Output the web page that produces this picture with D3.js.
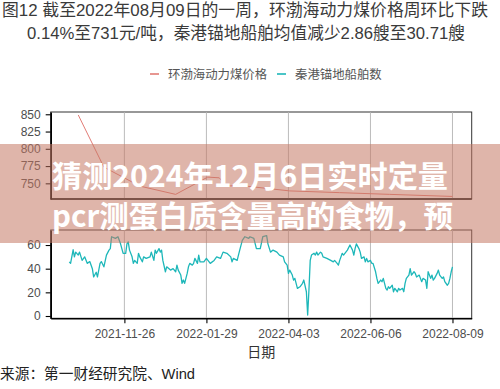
<!DOCTYPE html>
<html><head><meta charset="utf-8">
<script src="https://cdn.jsdelivr.net/npm/d3@7"></script>
<style>body{margin:0;background:#fff}svg{display:block}</style>
</head><body>
<svg id="c" width="500" height="389"></svg>
<script>
const titleLines = ["图12  截至2022年08月09日的一周，环渤海动力煤价格周环比下跌",
  "0.14%至731元/吨，秦港锚地船舶均值减少2.86艘至30.71艘"];
const seriesNames = ["环渤海动力煤价格", "秦港锚地船舶数"];
const xTickLabels = ["2021-11-26","2022-01-29","2022-04-03","2022-06-06","2022-08-09"];
const priceTicks = [750, 775, 800, 825, 850];
const shipTicks = [0, 20, 40, 60];
const xLabel = "日期";
const sourceText = "来源：第一财经研究院、Wind";
const overlayLines = ["猜测2024年12月6日实时定量", "pcr测蛋白质含量高的食物，预"];

const priceDates = ["2021-10-21","2021-11-10","2021-12-08","2022-01-05","2022-01-30","2022-02-08","2022-02-14","2022-02-24","2022-04-04","2022-05-13","2022-06-21","2022-08-09"];
const priceValues = [849, 773.5, 746, 734, 759, 758, 746, 747, 739, 736.5, 734, 731];

const shipDates = ["2021-10-14","2021-10-15","2021-10-17","2021-10-18","2021-10-19","2021-10-21","2021-10-22","2021-10-24","2021-10-26","2021-10-28","2021-10-30","2021-11-01","2021-11-02","2021-11-04","2021-11-05","2021-11-07","2021-11-08","2021-11-10","2021-11-12","2021-11-14","2021-11-15","2021-11-16","2021-11-19","2021-11-21","2021-11-23","2021-11-25","2021-11-27","2021-11-28","2021-11-29","2021-11-30","2021-12-02","2021-12-03","2021-12-04","2021-12-06","2021-12-07","2021-12-08","2021-12-10","2021-12-11","2021-12-13","2021-12-16","2021-12-17","2021-12-19","2021-12-20","2021-12-21","2021-12-23","2021-12-24","2021-12-25","2021-12-26","2021-12-28","2021-12-29","2022-01-01","2022-01-03","2022-01-05","2022-01-06","2022-01-07","2022-01-09","2022-01-10","2022-01-11","2022-01-12","2022-01-14","2022-01-15","2022-01-16","2022-01-18","2022-01-19","2022-01-20","2022-01-22","2022-01-23","2022-01-24","2022-01-27","2022-01-29","2022-02-01","2022-02-04","2022-02-06","2022-02-09","2022-02-11","2022-02-14","2022-02-17","2022-02-18","2022-02-19","2022-02-22","2022-02-23","2022-02-24","2022-02-26","2022-02-28","2022-03-03","2022-03-04","2022-03-07","2022-03-09","2022-03-12","2022-03-14","2022-03-17","2022-03-18","2022-03-20","2022-03-22","2022-03-25","2022-03-27","2022-03-30","2022-03-31","2022-04-02","2022-04-03","2022-04-04","2022-04-06","2022-04-07","2022-04-08","2022-04-10","2022-04-12","2022-04-14","2022-04-15","2022-04-17","2022-04-18","2022-04-19","2022-04-20","2022-04-21","2022-04-23","2022-04-24","2022-04-25","2022-04-26","2022-04-28","2022-04-29","2022-04-30","2022-05-03","2022-05-06","2022-05-08","2022-05-09","2022-05-11","2022-05-12","2022-05-13","2022-05-15","2022-05-16","2022-05-19","2022-05-21","2022-05-23","2022-05-24","2022-05-25","2022-05-26","2022-05-28","2022-05-29","2022-05-30","2022-06-01","2022-06-02","2022-06-03","2022-06-04","2022-06-06","2022-06-07","2022-06-08","2022-06-10","2022-06-11","2022-06-12","2022-06-14","2022-06-15","2022-06-16","2022-06-18","2022-06-19","2022-06-20","2022-06-21","2022-06-23","2022-06-24","2022-06-25","2022-06-27","2022-06-28","2022-06-29","2022-07-01","2022-07-02","2022-07-03","2022-07-04","2022-07-06","2022-07-07","2022-07-08","2022-07-10","2022-07-11","2022-07-12","2022-07-14","2022-07-15","2022-07-16","2022-07-17","2022-07-19","2022-07-20","2022-07-21","2022-07-23","2022-07-24","2022-07-25","2022-07-26","2022-07-28","2022-07-29","2022-07-30","2022-08-01","2022-08-02","2022-08-03","2022-08-05","2022-08-06","2022-08-07","2022-08-08","2022-08-09"];
const shipValues = [45.8,44.5,56,50,54,51.5,54,47,50,44.5,46,40,33,37,33,44.5,46,41.6,51.5,55.7,57,67,65.6,67,61,53,53,61,62.7,55.7,50,44.5,47,44.5,53,50,45.8,50,48.7,50,54,47,55.7,53,57,54,55.7,47,37.4,41.6,38.8,40,37.4,43,38.8,34.6,27.6,30.4,27.6,36,41.6,44.5,43,44.5,48.7,44.5,51.5,45.8,45.8,48.7,44.5,47,50,48.7,54,53,50,45.8,48.7,47,51.5,55.7,64,67,65.6,67,65.6,57,57,67,68,61,54,55.7,54,51.5,50,45.8,43,36,38.8,34.6,30.4,31.8,23.4,24.7,27.6,30.4,20.5,0.8,22,47,51.5,53,51.5,54,51.5,54,53,50,48.7,47,45.8,47,44.5,43,47,53,51.5,55.7,60,55.7,51.5,57,61,57,54,48.7,50,45.8,48.7,45.8,47,44.5,44.5,37.4,31.8,27.6,30.4,29,31.8,23.4,22,24.7,23.4,26,20.5,23.4,20.5,23.4,22,23.4,20.5,27.6,31.8,34.6,40,34.6,37.4,36,33,34.6,31.8,29,31.8,30.4,23.4,37.4,31.8,34.6,30.4,31.8,36,38.8,34.6,31.8,33,29,26,27.6,31.8,37.4,41.6];

const parse = d3.utcParse("%Y-%m-%d");
const svg = d3.select("#c");
const L = 50.7, R = 471.7;
const top1 = 112, bot1 = 199, top2 = 230, bot2 = 318.3;
const RED = "#e27c76", TEAL = "#1db7b9";
const numFont = "'Liberation Sans', Arial, 'Noto Sans CJK SC', sans-serif";
const cjkFont = "'Noto Sans CJK SC', 'Liberation Sans', sans-serif";

const x = d3.scaleUtc().domain([new Date(Date.UTC(2021,8,29,12)), new Date(Date.UTC(2022,7,24))]).range([L, R]);
const y1 = d3.scaleLinear().domain([727.3, 853.3]).range([bot1, top1]);
const y2 = d3.scaleLinear().domain([-1.94, 72.7]).range([bot2, top2]);
const xt = xTickLabels.map(parse);

// fit a text element horizontally into [x0, x1]
function fit(sel, x0, x1) {
  sel.each(function() {
    const w = this.getComputedTextLength();
    const target = x1 - x0;
    if (Math.abs(w - target) > 1) {
      d3.select(this).attr("textLength", target).attr("lengthAdjust", "spacingAndGlyphs");
    }
  });
}

// title
const tl = svg.selectAll("text.title").data(titleLines).join("text")
  .attr("class", "title")
  .attr("x", (d,i) => i ? 27 : 2).attr("y", (d,i) => 16 + i*23)
  .attr("font-family", numFont)
  .attr("font-size", 16.6).attr("fill", "#3a3a3a").text(d => d);
fit(tl.filter((d,i) => i === 0), 2, 488);
fit(tl.filter((d,i) => i === 1), 27, 465);

// legend
const lg = svg.append("g").attr("font-family", cjkFont).attr("font-size", 12.4).attr("fill", "#555");
const lx = [150, 277], tx = [168, 295];
seriesNames.forEach((n, i) => {
  lg.append("line").attr("x1", lx[i]).attr("x2", lx[i]+9).attr("y1", 74).attr("y2", 74)
    .attr("stroke", i ? TEAL : RED).attr("stroke-width", 1.6);
  lg.append("text").attr("x", tx[i]).attr("y", 78.5).text(n);
});

function panel(top, bot) {
  const g = svg.append("g");
  g.append("rect").attr("x", L).attr("y", top).attr("width", R-L).attr("height", bot-top)
    .attr("fill", "#fff").attr("stroke", "#333").attr("stroke-width", 1);
  g.selectAll("line.grid").data(xt).join("line")
    .attr("x1", d => x(d)).attr("x2", d => x(d)).attr("y1", top).attr("y2", bot)
    .attr("stroke", "#b3b3b3").attr("stroke-width", 0.9);
  return g;
}
panel(top1, bot1);
panel(top2, bot2);

// lines
const priceData = priceDates.map((d,i) => ({d: parse(d), v: priceValues[i]}));
const shipData = shipDates.map((d,i) => ({d: parse(d), v: shipValues[i]}));
svg.append("path").datum(priceData)
  .attr("d", d3.line().x(p => x(p.d)).y(p => y1(p.v)))
  .attr("fill", "none").attr("stroke", RED).attr("stroke-width", 1);
svg.append("path").datum(shipData)
  .attr("d", d3.line().x(p => x(p.d)).y(p => y2(p.v)))
  .attr("fill", "none").attr("stroke", TEAL).attr("stroke-width", 1.3).attr("stroke-linejoin", "round");

// axes
function styleAxis(g) {
  g.selectAll(".domain").attr("stroke", "#000").attr("stroke-width", 1.6);
  g.selectAll(".tick line").attr("stroke", "#000").attr("stroke-width", 1.1);
  g.selectAll(".tick text").attr("fill", "#4d4d4d").attr("font-size", 12).attr("font-family", numFont);
}
svg.append("g").attr("transform", `translate(${L},0)`)
  .call(d3.axisLeft(y1).tickValues(priceTicks).tickSize(5).tickPadding(5).tickSizeOuter(0)).call(styleAxis);
svg.append("g").attr("transform", `translate(${L},0)`)
  .call(d3.axisLeft(y2).tickValues(shipTicks).tickSize(5).tickPadding(5).tickSizeOuter(0)).call(styleAxis);
svg.append("g").attr("transform", `translate(0,${bot2})`)
  .call(d3.axisBottom(x).tickValues(xt).tickFormat(d3.utcFormat("%Y-%m-%d")).tickSize(5).tickPadding(6).tickSizeOuter(0)).call(styleAxis);
svg.append("line").attr("x1", L).attr("x2", R).attr("y1", bot1).attr("y2", bot1).attr("stroke", "#000").attr("stroke-width", 1.4);

svg.append("text").attr("x", (L+R)/2).attr("y", 357).attr("text-anchor", "middle")
  .attr("font-family", cjkFont).attr("font-size", 14).attr("fill", "#333").text(xLabel);
const src = svg.append("text").attr("x", 0).attr("y", 379)
  .attr("font-family", numFont).attr("font-size", 14.7).attr("fill", "#222").text(sourceText);
fit(src, 0, 195);

// overlay banner
svg.append("rect").attr("x", 0).attr("y", 144).attr("width", 500).attr("height", 99)
  .attr("fill", "rgb(196,120,100)").attr("fill-opacity", 0.55);
const ov = svg.selectAll("text.ov").data(overlayLines).join("text")
  .attr("class", "ov")
  .attr("x", 52).attr("y", (d,i) => 187 + i*40)
  .attr("font-family", cjkFont).attr("font-weight", 700).attr("font-size", 30)
  .attr("fill", "#fff").text(d => d);
fit(ov.filter((d,i) => i === 0), 52, 448);
fit(ov.filter((d,i) => i === 1), 52, 453);
</script>
</body></html>
